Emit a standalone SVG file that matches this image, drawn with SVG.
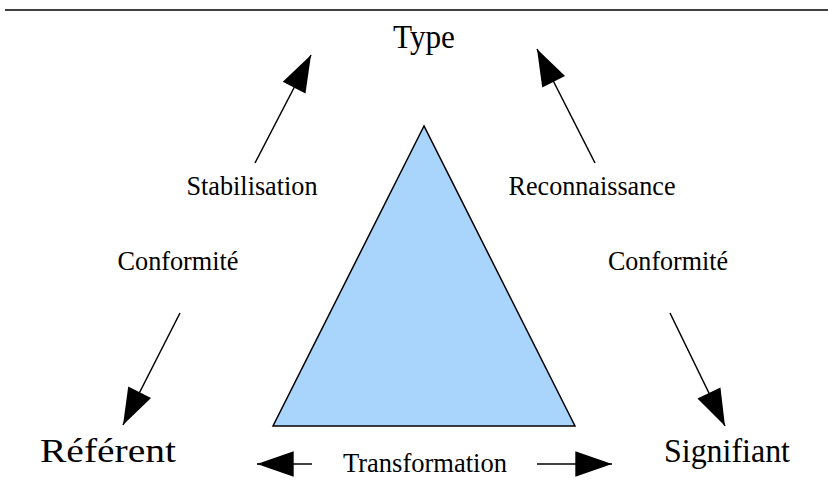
<svg xmlns="http://www.w3.org/2000/svg" width="828" height="499" viewBox="0 0 828 499">
<style>
.lbl{font-family:"Liberation Serif","Times New Roman",serif;fill:#000;text-anchor:middle}
.big{font-size:33px}
.sm{font-size:28px}
.con{stroke:#000;stroke-width:1.5;fill:none;marker-end:url(#ah)}
</style>
<defs>
<marker id="ah" markerUnits="userSpaceOnUse" markerWidth="40" markerHeight="30" viewBox="-34 -13 36 26" refX="0" refY="0" orient="auto">
<path d="M0,0 L-33,-11.5 L-33,11.5 Z" fill="#000"/>
</marker>
</defs>
<rect width="828" height="499" fill="#fff"/>
<line x1="5" y1="10" x2="828" y2="10" stroke="#000" stroke-width="1.5"/>
<g id="triangle">
<polygon points="424,126 273,426 575,426" fill="#a9d4fc" stroke="#000" stroke-width="1.5"/>
</g>
<g id="connectors">
<line class="con" x1="255" y1="163" x2="311" y2="55"/>
<line class="con" x1="595" y1="163" x2="537" y2="49"/>
<line class="con" x1="180" y1="313" x2="123" y2="425"/>
<line class="con" x1="670" y1="313" x2="725" y2="426"/>
<line class="con" x1="312" y1="464" x2="257" y2="464"/>
<line class="con" x1="537" y1="464" x2="612" y2="464"/>
</g>
<g id="type"><text class="lbl big" x="424" y="48" textLength="62" lengthAdjust="spacingAndGlyphs">Type</text></g>
<g id="referent"><text class="lbl big" x="108" y="462" textLength="136" lengthAdjust="spacingAndGlyphs">Référent</text></g>
<g id="signifiant"><text class="lbl big" x="727" y="462" textLength="126" lengthAdjust="spacingAndGlyphs">Signifiant</text></g>
<g id="labels">
<text class="lbl sm" x="252" y="195" textLength="131" lengthAdjust="spacingAndGlyphs">Stabilisation</text>
<text class="lbl sm" x="592" y="195" textLength="167" lengthAdjust="spacingAndGlyphs">Reconnaissance</text>
<text class="lbl sm" x="178" y="270" textLength="121" lengthAdjust="spacingAndGlyphs">Conformité</text>
<text class="lbl sm" x="668" y="270" textLength="120" lengthAdjust="spacingAndGlyphs">Conformité</text>
<text class="lbl sm" x="425" y="472" textLength="164" lengthAdjust="spacingAndGlyphs">Transformation</text>
</g>
</svg>
